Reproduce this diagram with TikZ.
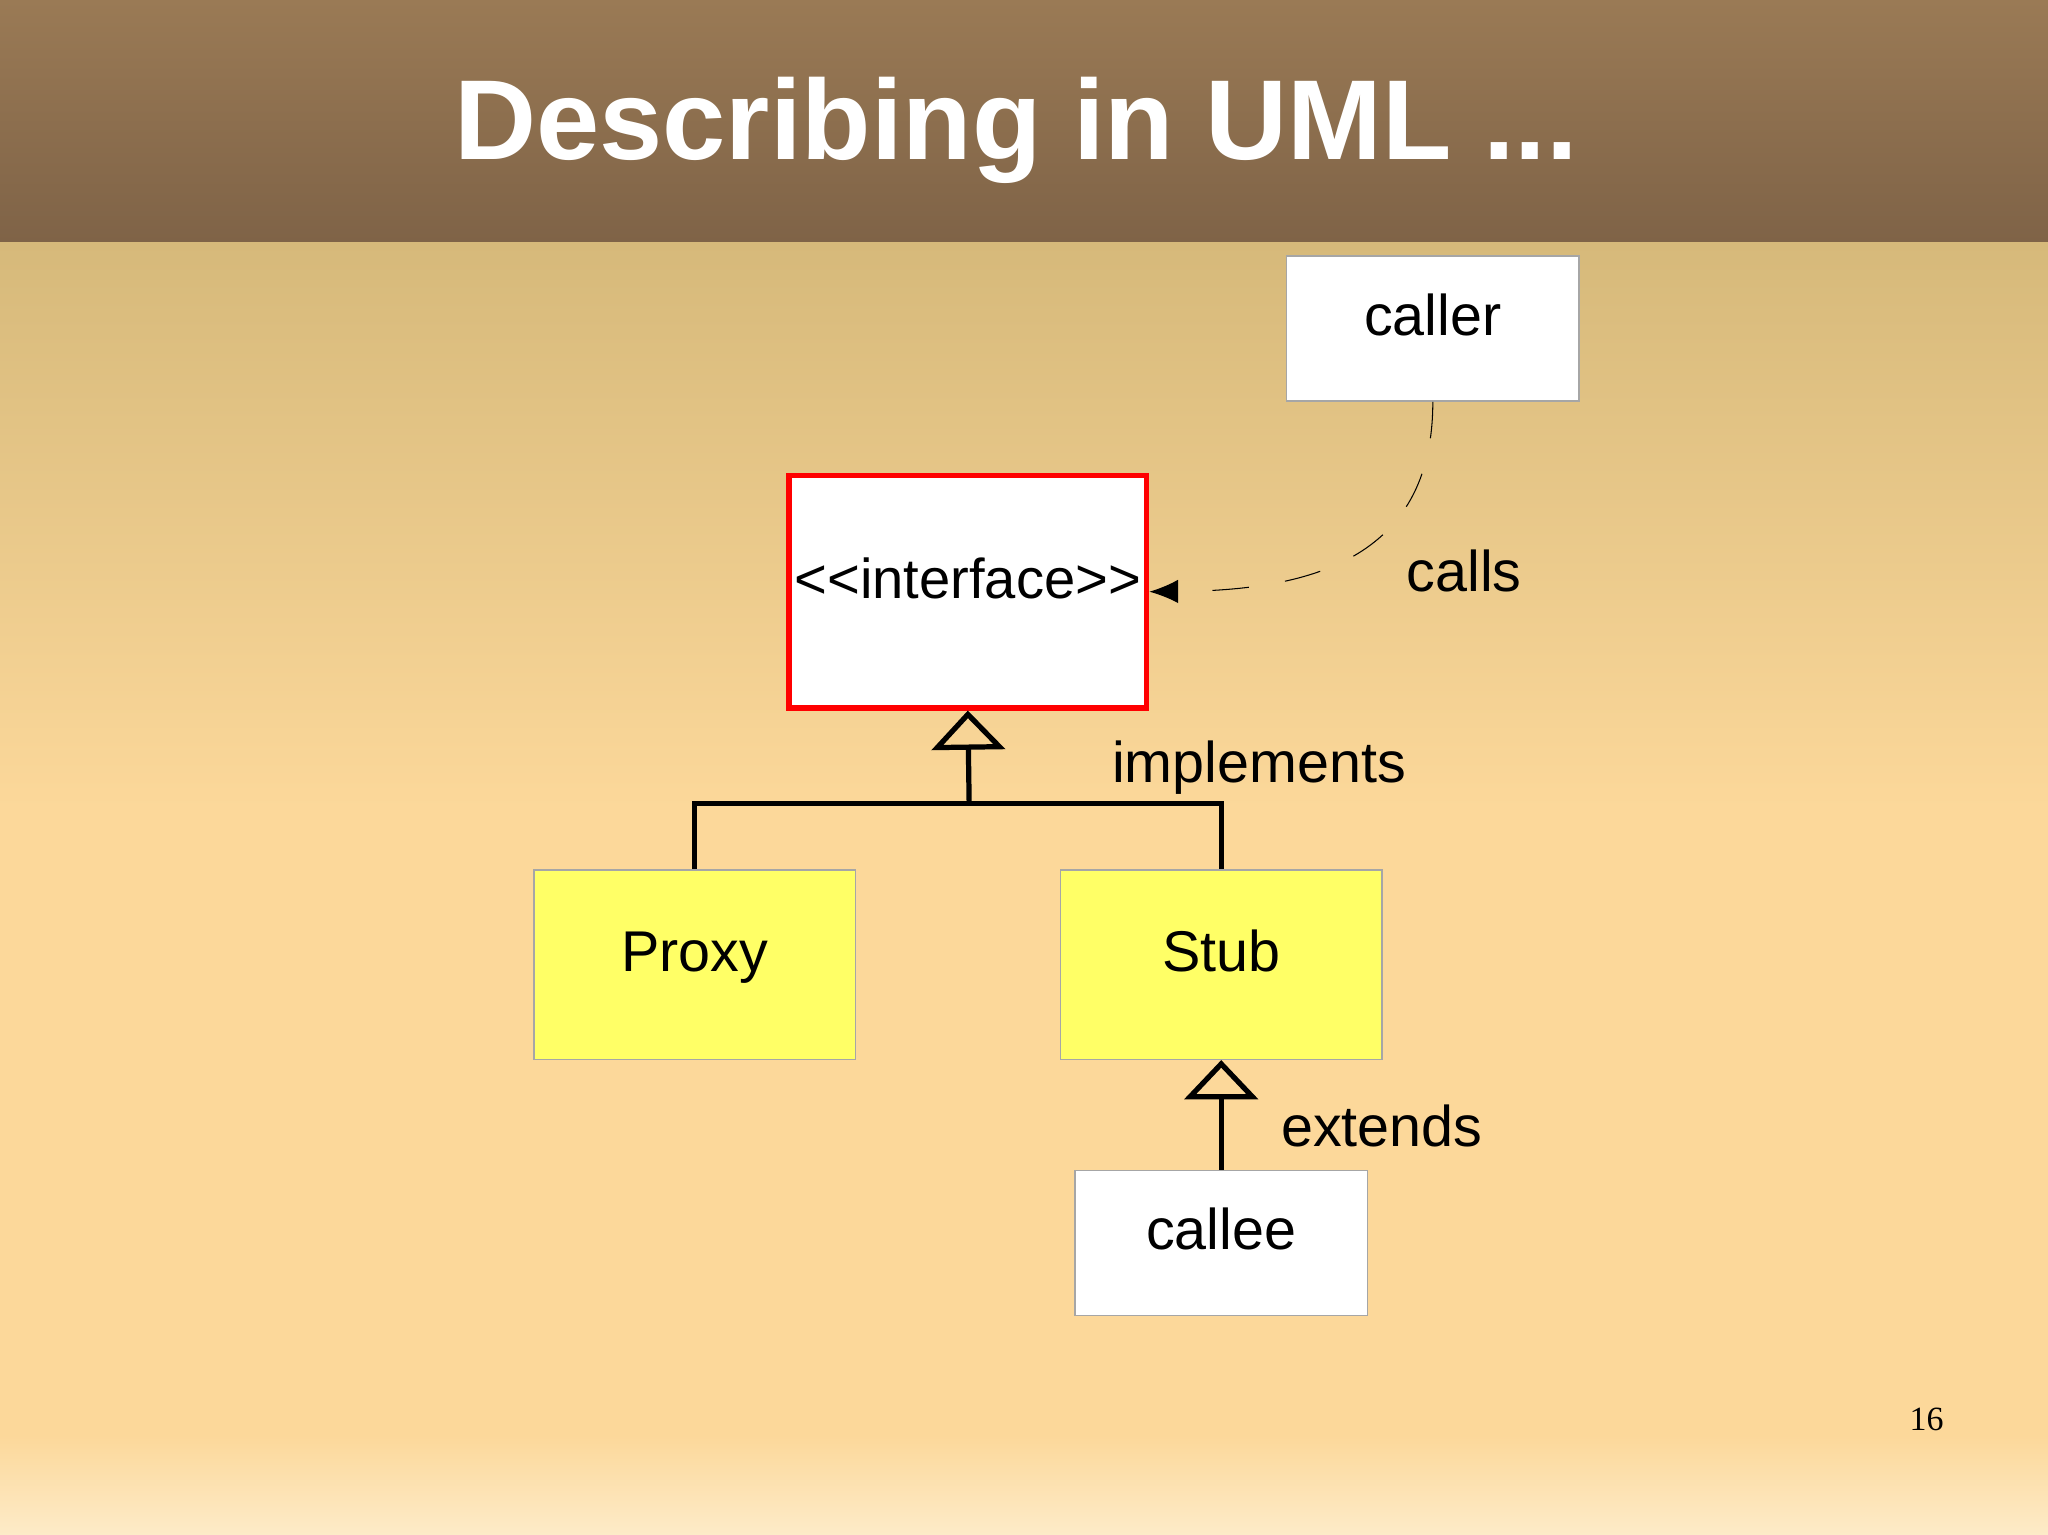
\documentclass[tikz,border=0pt]{standalone}
\usepackage{fontspec}
\setmainfont{Liberation Sans}
\newfontfamily\serifnum{Liberation Serif}
\usetikzlibrary{arrows.meta}
\definecolor{hdtop}{HTML}{9A7A55}
\definecolor{hdbot}{HTML}{7F6347}
\definecolor{bgtop}{HTML}{D6B97A}
\definecolor{bgmid}{HTML}{FCD89A}
\definecolor{bgbot}{HTML}{FDEBC8}
\definecolor{yel}{HTML}{FFFF66}
\begin{document}
\begin{tikzpicture}[x=0.5pt,y=-0.5pt,
  box/.style={draw=gray!70,line width=0.6pt,inner sep=0pt,text height=0.75em,text depth=0.22em,font=\fontsize{22}{26}\selectfont},
  lbl/.style={font=\fontsize{22}{26}\selectfont,inner sep=0pt},
  tri/.style={-{Triangle[open,length=15pt,width=28pt,line width=2pt]},line width=2pt}]
\useasboundingbox (0,0) rectangle (1568,1175);
\shade[top color=bgtop,bottom color=bgmid] (0,185) rectangle (1568,620);
\shade[top color=bgmid,bottom color=bgmid] (0,619) rectangle (1568,1100);
\shade[top color=bgmid,bottom color=bgbot] (0,1099) rectangle (1568,1175);
\shade[top color=hdtop,bottom color=hdbot] (0,0) rectangle (1568,185);
\node[text=white,font=\fontsize{43.5}{48}\selectfont\bfseries] (title) at (778,100) {Describing in UML ...};
\node[box,fill=white,minimum width=112pt,minimum height=55.5pt] (caller) at (1097,251.5) {caller};
\node[draw=red,line width=2pt,fill=white,inner sep=0pt,minimum width=137pt,minimum height=89pt,text height=0.75em,text depth=0.22em,font=\fontsize{21.5}{24}\selectfont] (iface) at (741,453) {{<}{<}interface{>}{>}};
\node[box,fill=yel,minimum width=123pt,minimum height=72.5pt] (proxy) at (532,738.5) {Proxy};
\node[box,fill=yel,minimum width=123pt,minimum height=72.5pt] (stub) at (935,738.5) {Stub};
\node[box,fill=white,minimum width=112pt,minimum height=55.5pt] (callee) at (935,951.5) {callee};
\coordinate (j) at (742,615);
\draw[line width=2pt] (proxy.north) |- (j) -| (stub.north);
\draw[tri] (j) -- (iface.south);
\draw[tri] (callee.north) -- (stub.south);
\draw[dashed,line width=0.4pt,dash pattern=on 14pt off 14pt,-{Latex[length=11pt,width=9pt]}] (caller.south) .. controls (1097,430) and (1000,452) .. (iface.east);
\node[lbl] (calls) at (1121,437) {calls};
\node[lbl] (impl) at (964,588) {implements};
\node[lbl] (ext) at (1058,862) {extends};
\node[font=\serifnum\fontsize{13}{15}\selectfont] (num) at (1475,1087) {16};
\end{tikzpicture}
\end{document}
